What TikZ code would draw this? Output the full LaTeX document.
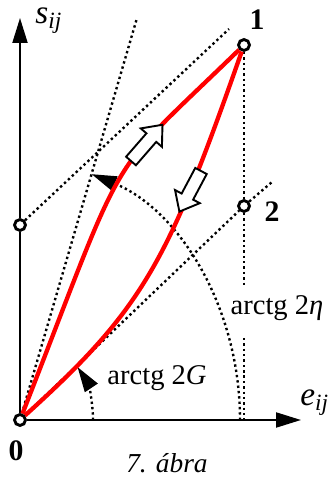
\documentclass[tikz,border=0pt]{standalone}
\usepackage{fontspec}
\setmainfont{Liberation Serif}
\usetikzlibrary{arrows.meta}

\tikzset{
  pt/.style={circle,draw,fill=white,line width=1.2pt,minimum size=4.6pt,inner sep=0pt},
  ax/.style={line width=0.85pt},
  dotline/.style={line width=1pt,dash pattern=on 1pt off 1.25pt},
  redline/.style={red,line width=1.8pt},
  blockarr/.style={draw,fill=white,line width=0.8pt,line join=miter},
  >={Triangle[length=10.5pt,width=6.3pt]}
}

\begin{document}
\begin{tikzpicture}[x=0.42pt,y=0.42pt]
\useasboundingbox (-20,-57) rectangle (308,420);

% points of the loop
\node[pt] (p0) at (0,0) {};
\node[pt] (py) at (0,195) {};
\node[pt] (p1) at (224,375) {};
\node[pt] (p2) at (224,214) {};

\coordinate (ytop) at (0,402);
\coordinate (xend) at (281,0);
\coordinate (u1) at (209,391);
\coordinate (l1) at (252,238);
\coordinate (st) at (117,402);
\coordinate (g1) at (224,133);
\coordinate (g2) at (224,82);
\coordinate (f1) at (224,0);

% axes
\draw[ax,->] (p0) -- (py) -- (ytop);
\draw[ax,->] (p0) -- (xend);

% dotted helper lines
\draw[dotline] (py) -- (u1);
\draw[dotline] (p0) -- (p2) -- (l1);
\draw[dotline] (p0) -- (st);
\draw[dotline] (p1) -- (p2) -- (g1);
\draw[dotline] (g2) -- (f1);

% angle arcs
\draw[dotline,->] (73,0) arc[start angle=0,end angle=38,x radius=73,y radius=86];
\draw[dotline,->] (220,0) arc[start angle=0,end angle=71,x radius=220,y radius=260];

% loading and unloading
\draw[redline] (p0) .. controls (110.5,283) and (82,237) .. (p1);
\draw[redline] (p1) .. controls (148,158) and (124,112) .. (p0);

\draw[blockarr,shift={(111,259)},rotate=49] (0,-6.5) -- (31,-6.5) -- (31,-14) -- (48,0) -- (31,14) -- (31,6.5) -- (0,6.5) -- cycle;
\draw[blockarr,shift={(181,249)},rotate=242] (0,-6.5) -- (29,-6.5) -- (29,-14) -- (46,0) -- (29,14) -- (29,6.5) -- (0,6.5) -- cycle;

% labels
\node[anchor=west] (sl) at (7,399) {\fontsize{14}{14}\selectfont\textit{s}\textsubscript{\textit{ij}}};
\node[anchor=west] (el) at (272,17) {\fontsize{14}{14}\selectfont\textit{e}\textsubscript{\textit{ij}}};
\node (n1) at (237,400) {\fontsize{12.5}{12}\selectfont\textbf{1}};
\node (n2) at (252,208) {\fontsize{12.5}{12}\selectfont\textbf{2}};
\node (n0) at (-4,-31) {\fontsize{12.5}{12}\selectfont\textbf{0}};
\node (lg) at (137,42) {\fontsize{12}{12}\selectfont arctg 2\textit{G}};
\node (le) at (257,112) {\fontsize{12}{12}\selectfont arctg 2\textit{η}};
\node (cap) at (147,-43) {\fontsize{11.5}{12}\selectfont\textit{7. ábra}};
\end{tikzpicture}
\end{document}
